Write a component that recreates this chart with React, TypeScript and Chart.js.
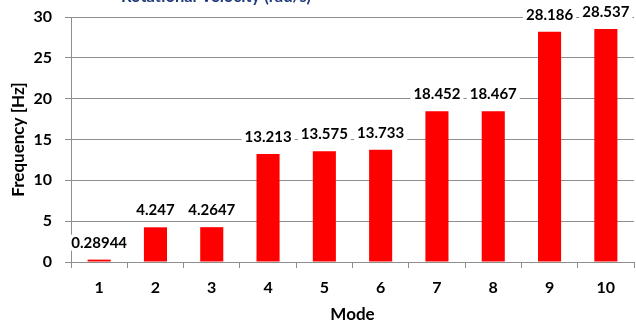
import React, { useEffect, useRef } from "react";
import { Chart, registerables } from "chart.js";

Chart.register(...registerables);

// Natural frequency of each vibration mode
const modes = ["1", "2", "3", "4", "5", "6", "7", "8", "9", "10"];
const frequencies = [0.28944, 4.247, 4.2647, 13.213, 13.575, 13.733, 18.452, 18.467, 28.186, 28.537];
const yMin = 0;
const yMax = 30;
const yStep = 5;

const chartTitle = "Rotational Velocity (rad/s)";
const xTitle = "Mode";
const yTitle = "Frequency [Hz]";

const FONT = "Lato, 'Open Sans', sans-serif";
const GRID = "#8E8E8E";

// Value labels above each bar, on a white box that hides the grid behind them
const valueLabels = {
  id: "valueLabels",
  afterDatasetsDraw(chart: any) {
    const ctx = chart.ctx;
    const meta = chart.getDatasetMeta(0);
    ctx.save();
    ctx.font = `bold 15px ${FONT}`;
    ctx.textAlign = "center";
    ctx.textBaseline = "alphabetic";
    meta.data.forEach((bar: any, i: number) => {
      const text = String(frequencies[i]);
      const w = ctx.measureText(text).width;
      const baseY = bar.y - 12;
      ctx.fillStyle = "#ffffff";
      ctx.fillRect(bar.x - w / 2 - 3, baseY - 13, w + 6, 16);
      ctx.fillStyle = "#000000";
      ctx.fillText(text, bar.x, baseY);
    });
    ctx.restore();
  },
};

// Heading sitting at the very top edge of the canvas
const topHeading = {
  id: "topHeading",
  afterDraw(chart: any) {
    const ctx = chart.ctx;
    ctx.save();
    ctx.font = `bold 16.5px ${FONT}`;
    ctx.textAlign = "center";
    ctx.textBaseline = "alphabetic";
    ctx.fillStyle = "#1F3A78";
    ctx.fillText(chartTitle, 216, 2);
    ctx.restore();
  },
};

export default function App() {
  const canvasRef = useRef<HTMLCanvasElement | null>(null);

  useEffect(() => {
    const canvas = canvasRef.current;
    if (!canvas) return;
    const chart = new Chart(canvas, {
      type: "bar",
      data: {
        labels: modes,
        datasets: [
          {
            data: frequencies,
            backgroundColor: "#FF0000",
            borderWidth: 0,
            barPercentage: 0.41,
            categoryPercentage: 1,
          },
        ],
      },
      options: {
        responsive: false,
        animation: false,
        devicePixelRatio: 1,
        layout: { padding: { top: 17, right: 2, left: 0, bottom: 0 } },
        plugins: {
          legend: { display: false },
          tooltip: { enabled: false },
          title: { display: false },
        },
        scales: {
          x: {
            afterFit: (scale: any) => {
              scale.height = 65;
              scale.paddingLeft = 0;
              scale.paddingRight = 0;
            },
            grid: {
              display: true,
              drawOnChartArea: false,
              drawTicks: true,
              tickLength: 6,
              color: GRID,
              offset: true,
            },
            border: { display: true, color: GRID, width: 1 },
            ticks: {
              color: "#000000",
              font: { family: FONT, size: 16, weight: "bold" },
              padding: 10,
              maxRotation: 0,
            },
            title: {
              display: true,
              text: xTitle,
              color: "#000000",
              font: { family: FONT, size: 17, weight: "bold" },
              padding: { top: 0, bottom: 2 },
            },
          },
          y: {
            min: yMin,
            max: yMax,
            afterFit: (scale: any) => {
              scale.width = 71;
              scale.paddingTop = 0;
              scale.paddingBottom = 0;
            },
            grid: {
              color: GRID,
              tickLength: 6,
              drawTicks: true,
            },
            border: { display: true, color: GRID, width: 1 },
            ticks: {
              stepSize: yStep,
              color: "#000000",
              font: { family: FONT, size: 16, weight: "bold" },
              padding: 13,
            },
            title: {
              display: true,
              text: yTitle,
              color: "#000000",
              font: { family: FONT, size: 17, weight: "bold" },
              padding: { top: 8, bottom: 0 },
            },
          },
        },
      },
      plugins: [valueLabels, topHeading],
    });
    return () => chart.destroy();
  }, []);

  return (
    <div style={{ position: "absolute", left: 0, top: 0, width: 636, height: 327, background: "#ffffff" }}>
      <canvas ref={canvasRef} width={636} height={327} style={{ display: "block" }} />
    </div>
  );
}
